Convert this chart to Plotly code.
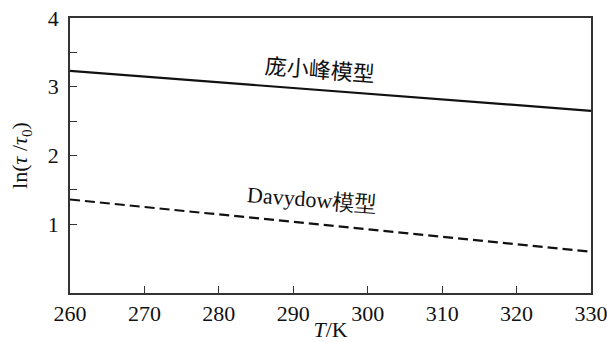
import plotly.graph_objects as go

# Temperature range (K) and ln(tau/tau0) for the two models
temperature = [260, 330]
pang_model = [3.23, 2.65]
davydov_model = [1.36, 0.60]

x_ticks = [260, 270, 280, 290, 300, 310, 320, 330]
y_ticks = [1, 1.5, 2, 2.5, 3, 3.5, 4]
y_ticklabels = ["1", "", "2", "", "3", "", "4"]

serif = "Times New Roman, Liberation Serif, serif"
ink = "#111111"

fig = go.Figure()
fig.add_trace(go.Scatter(
    x=temperature, y=pang_model, mode="lines",
    line=dict(color=ink, width=2.2), showlegend=False,
))
fig.add_trace(go.Scatter(
    x=temperature, y=davydov_model, mode="lines",
    line=dict(color=ink, width=2.2, dash="10px,5px"), showlegend=False,
))

fig.add_annotation(
    x=293.6, y=3.28, text="庞小峰模型", showarrow=False, textangle=4.5,
    font=dict(family="Noto Sans CJK SC", size=22, color=ink),
)
fig.add_annotation(
    x=292.5, y=1.36, text="Davydow模型",
    showarrow=False, textangle=4.5,
    font=dict(family=serif, size=22, color=ink),
)

axis_common = dict(
    showline=True, mirror=True, linecolor="#333333", linewidth=1.6,
    ticks="inside", ticklen=7, tickwidth=1.4, tickcolor="#333333",
    showgrid=False, zeroline=False, automargin=False,
    tickfont=dict(family=serif, size=22, color=ink),
    ticklabeloverflow="allow",
)

fig.update_xaxes(
    range=[260, 330], tickmode="array", tickvals=x_ticks,
    title=dict(text="<i>T</i>/K", font=dict(family=serif, size=22, color=ink), standoff=11),
    **axis_common,
)
fig.update_yaxes(
    range=[0, 4], tickmode="array", tickvals=y_ticks, ticktext=y_ticklabels,
    ticklabelstandoff=5,
    title=dict(text="ln(<i>τ</i> /<i>τ</i><sub>0</sub>)",
               font=dict(family=serif, size=22, color=ink), standoff=14),
    **axis_common,
)

fig.update_layout(
    width=607, height=342,
    margin=dict(l=70, r=16, t=18, b=49),
    font=dict(family=serif, size=22, color=ink),
    plot_bgcolor="white", paper_bgcolor="white",
)

fig.write_html("out.html")
